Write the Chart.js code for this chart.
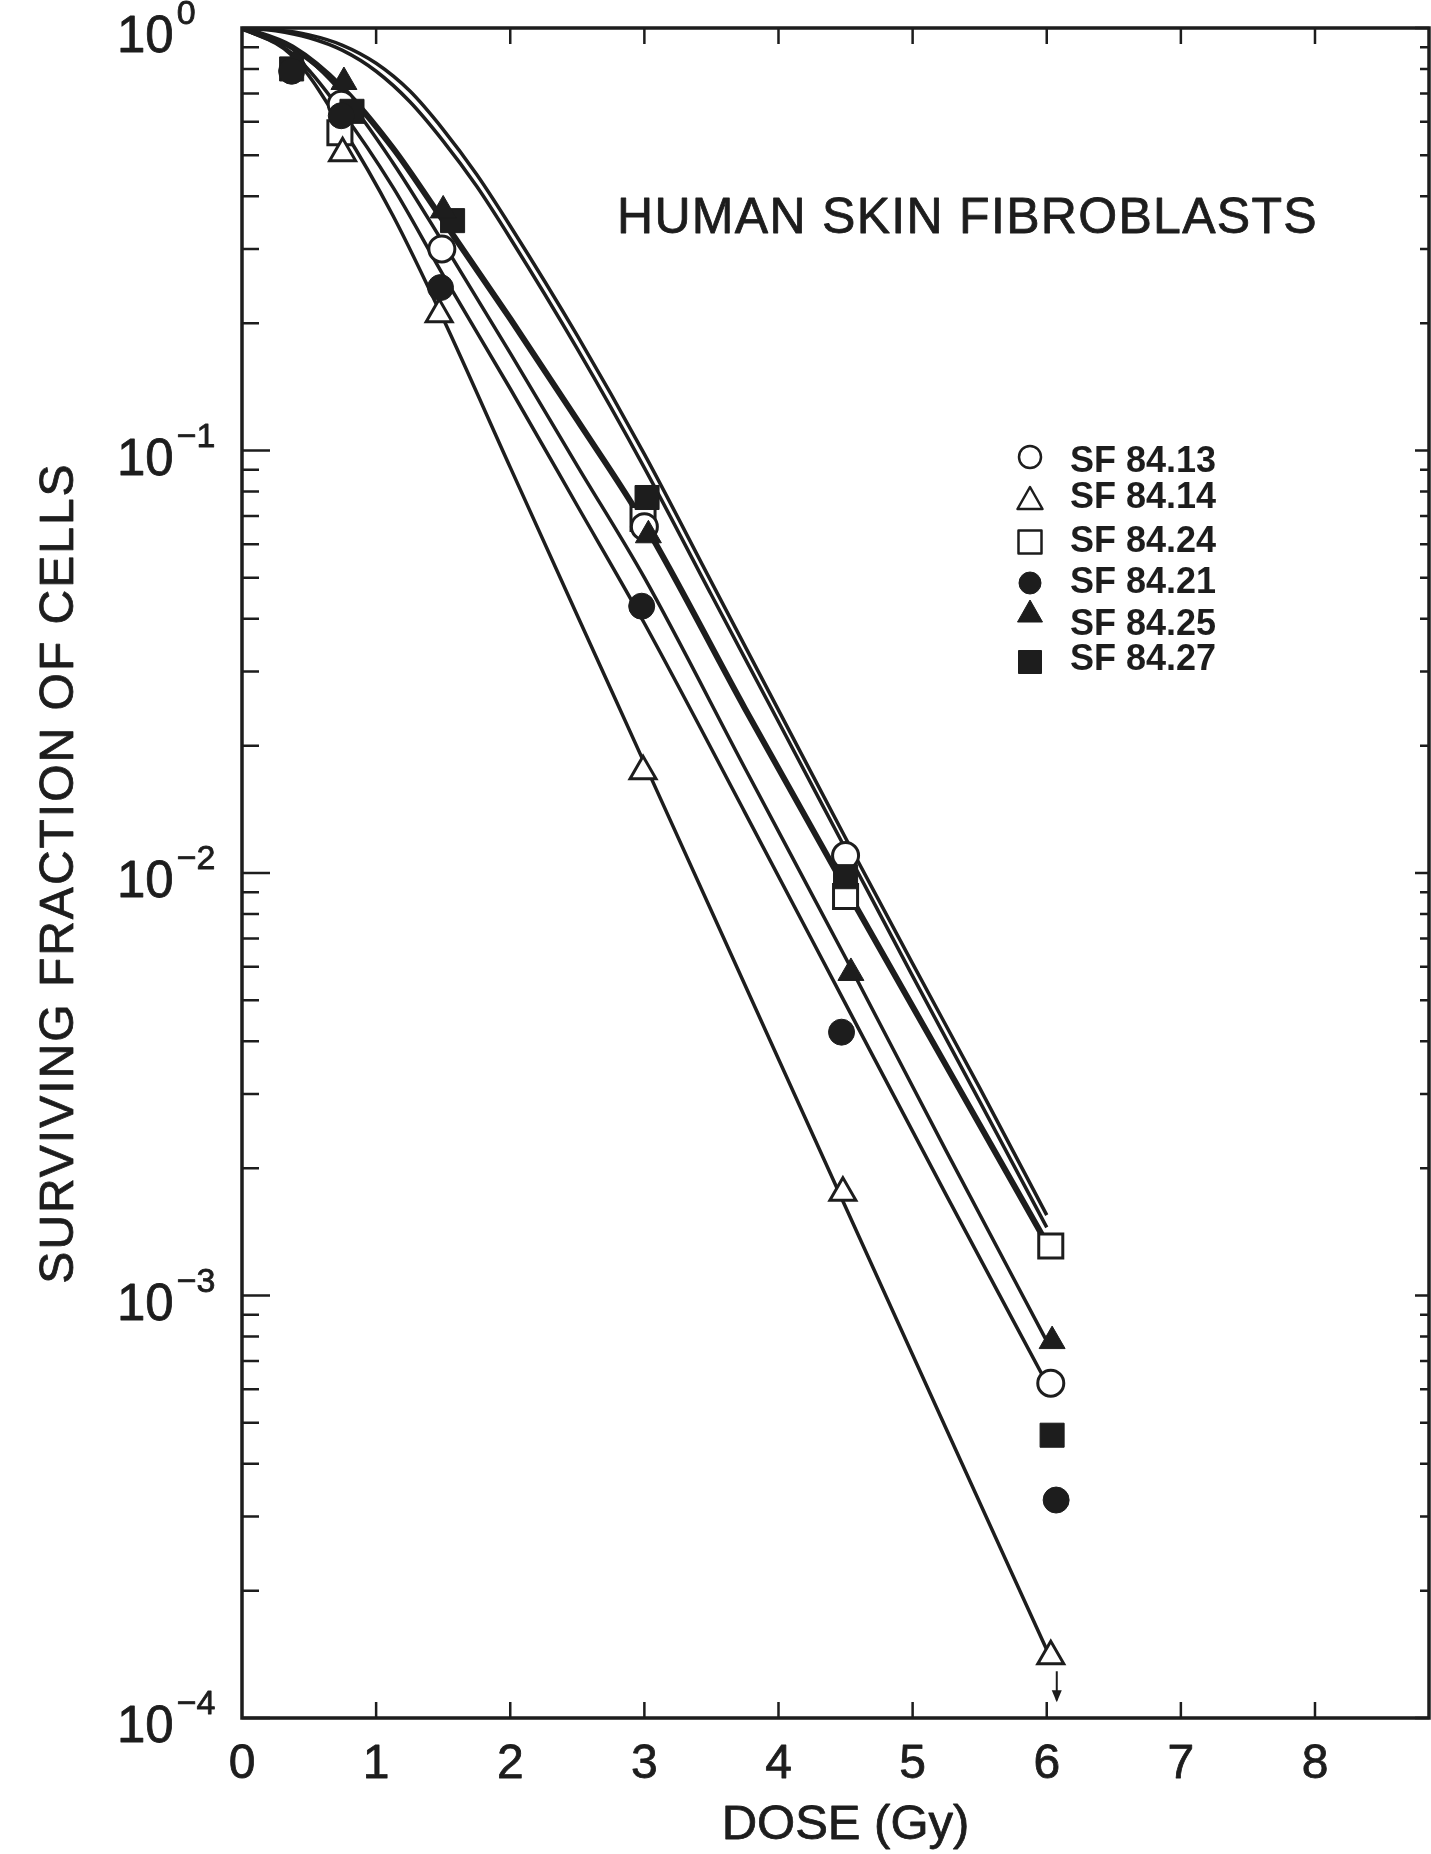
<!DOCTYPE html>
<html>
<head>
<meta charset="utf-8">
<title>Human skin fibroblasts</title>
<script src="https://cdn.jsdelivr.net/npm/chart.js@4.4.1/dist/chart.umd.min.js"></script>
<style>
    html, body { margin: 0; padding: 0; background: #fff; }
    #khungVe { width: 1431px; height: 1854px; }
</style>
</head>
<body>
<div id="khungVe"><canvas id="doThiSongSot" width="1431" height="1854"></canvas></div>
<script>
var _mauMuc = '#1d1d1d';
var _font = '"Liberation Sans", Arial, Helvetica, sans-serif';

// Điểm đo: liều (Gy) và tỉ lệ tế bào sống
var sf8413Dose = [0.74, 1.49, 3.0, 4.5, 6.03];
var sf8413Frac = [0.66, 0.30, 0.066, 0.0110, 0.00062];
var sf8414Dose = [0.75, 1.47, 2.99, 4.48, 6.03];
var sf8414Frac = [0.505, 0.21, 0.0174, 0.00175, 0.000140];
var sf8424Dose = [0.73, 2.99, 4.5, 6.03];
var sf8424Frac = [0.565, 0.069, 0.0088, 0.00131];
var sf8421Dose = [0.37, 0.74, 1.48, 2.98, 4.47, 6.07];
var sf8421Frac = [0.79, 0.62, 0.243, 0.0428, 0.0042, 0.000328];
var sf8425Dose = [0.4, 0.76, 1.5, 3.03, 4.54, 6.04];
var sf8425Frac = [0.83, 0.745, 0.37, 0.063, 0.0058, 0.00078];
var sf8427Dose = [0.37, 0.82, 1.57, 3.02, 4.5, 6.04];
var sf8427Frac = [0.8, 0.635, 0.35, 0.0774, 0.0098, 0.000467];

// Các đường cong khớp (đọc theo hình)
var fitDose = [0, 0.375, 0.75, 1.125, 1.5, 2, 2.5, 3, 3.75, 4.5, 5.25, 6];
var fit8414 = [1, 0.86, 0.58, 0.36, 0.205, 0.0912, 0.0407, 0.0182, 0.00543, 0.00162, 0.000484, 0.000145];
var fit8421 = [1, 0.87, 0.63, 0.42, 0.26, 0.14, 0.074, 0.039, 0.0139, 0.0049, 0.00173, 0.00062];
var fit8425 = [1, 0.9, 0.7, 0.48, 0.31, 0.17, 0.092, 0.05, 0.0177, 0.0063, 0.0022, 0.00078];
var fit8424 = [1, 0.9, 0.72, 0.52, 0.35, 0.205, 0.118, 0.067, 0.0245, 0.0092, 0.0035, 0.00133];
var vaiDose = [0, 0.25, 0.5, 0.75, 1, 1.25, 1.5, 1.75, 2, 2.5, 3, 3.5, 4, 4.5, 5, 5.5, 6];
var fit8413 = [1, 0.99, 0.963, 0.91, 0.825, 0.71, 0.575, 0.45, 0.34, 0.187, 0.098, 0.0488, 0.0243, 0.0121, 0.0061, 0.0031, 0.00155];
var fit8427 = [1, 0.985, 0.948, 0.885, 0.79, 0.67, 0.54, 0.422, 0.318, 0.174, 0.091, 0.0455, 0.0228, 0.0114, 0.0057, 0.00288, 0.00145];

// Nhãn trục
var xTickValues = [0, 1, 2, 3, 4, 5, 6, 7, 8];
var xTickLabels = ['0', '1', '2', '3', '4', '5', '6', '7', '8'];
var yDecades = [1, 0.1, 0.01, 0.001, 0.0001];
var yExponents = ['0', '\u22121', '\u22122', '\u22123', '\u22124'];
var legendLabels = ['SF 84.13', 'SF 84.14', 'SF 84.24', 'SF 84.21', 'SF 84.25', 'SF 84.27'];
var legendStyles = ['circle', 'triangle', 'rect', 'circle', 'triangle', 'rect'];
var legendFilled = [false, false, false, true, true, true];

var _myChart = null;

function taoDiem(doses, fracs) {
    return doses.map(function (d, i) {
        return { x: d, y: fracs[i] };
    });
}

function datasetDiem(label, doses, fracs, style, filled, r) {
    return {
        label: label,
        data: taoDiem(doses, fracs),
        showLine: false,
        pointStyle: style,
        pointRadius: r,
        pointBackgroundColor: filled ? _mauMuc : '#ffffff',
        pointBorderColor: _mauMuc,
        pointBorderWidth: filled ? 1 : 3,
        order: filled ? 0 : 1
    };
}

function datasetDuong(doses, fracs, width) {
    return {
        label: '',
        data: taoDiem(doses, fracs),
        showLine: true,
        borderColor: _mauMuc,
        borderWidth: width,
        pointRadius: 0,
        cubicInterpolationMode: 'monotone',
        fill: false,
        order: 2
    };
}

// chữ đậm hơn một chút giống bản in
function vietChu(ctx, text, x, y) {
    ctx.fillText(text, x, y);
    ctx.strokeText(text, x, y);
}

// vẽ ký hiệu cho chú thích
function veKyHieu(ctx, style, filled, x, y) {
    ctx.beginPath();
    if (style === 'circle') {
        ctx.arc(x, y, 11, 0, Math.PI * 2);
    } else if (style === 'triangle') {
        ctx.moveTo(x, y - 13);
        ctx.lineTo(x + 12.5, y + 9);
        ctx.lineTo(x - 12.5, y + 9);
        ctx.closePath();
    } else {
        ctx.rect(x - 11.5, y - 11.5, 23, 23);
    }
    ctx.fillStyle = filled ? _mauMuc : '#ffffff';
    ctx.fill();
    ctx.lineWidth = filled ? 1 : 2.5;
    ctx.strokeStyle = _mauMuc;
    ctx.stroke();
}

var khungPlugin = {
    id: 'khung',
    afterDatasetsDraw: function (chart) {
        var ctx = chart.ctx;
        var a = chart.chartArea;
        var sx = chart.scales.x;
        var sy = chart.scales.y;
        ctx.save();
        ctx.strokeStyle = _mauMuc;
        ctx.lineWidth = 3.5;
        ctx.strokeRect(a.left, a.top, a.right - a.left, a.bottom - a.top);

        // vạch chia trục y (hướng vào trong)
        ctx.lineWidth = 2.5;
        ctx.beginPath();
        yDecades.forEach(function (v) {
            var py = sy.getPixelForValue(v);
            ctx.moveTo(a.left, py); ctx.lineTo(a.left + 28, py);
            ctx.moveTo(a.right, py); ctx.lineTo(a.right - 14, py);
            if (v < 1) {
                for (var m = 2; m <= 9; m++) {
                    var pm = sy.getPixelForValue(m * v);
                    ctx.moveTo(a.left, pm); ctx.lineTo(a.left + 17, pm);
                    ctx.moveTo(a.right, pm); ctx.lineTo(a.right - 9, pm);
                }
            }
        });
        // vạch chia trục x
        xTickValues.forEach(function (v) {
            if (v === 0) return;
            var px = sx.getPixelForValue(v);
            ctx.moveTo(px, a.bottom); ctx.lineTo(px, a.bottom - 16);
            ctx.moveTo(px, a.top); ctx.lineTo(px, a.top + 16);
        });
        ctx.stroke();

        // mũi tên dưới điểm SF 84.14 ở 6 Gy
        var meta = chart.getDatasetMeta(1);
        var p = meta.data[meta.data.length - 1];
        var ax = p.x + 6;
        ctx.lineWidth = 2;
        ctx.beginPath();
        ctx.moveTo(ax, p.y + 15);
        ctx.lineTo(ax, p.y + 44);
        ctx.stroke();
        ctx.beginPath();
        ctx.moveTo(ax - 5, p.y + 34);
        ctx.lineTo(ax + 5, p.y + 34);
        ctx.lineTo(ax, p.y + 46);
        ctx.closePath();
        ctx.fillStyle = _mauMuc;
        ctx.fill();
        ctx.restore();
    },
    afterDraw: function (chart) {
        var ctx = chart.ctx;
        var a = chart.chartArea;
        var sx = chart.scales.x;
        var sy = chart.scales.y;
        ctx.save();
        ctx.fillStyle = _mauMuc;
        ctx.strokeStyle = _mauMuc;
        ctx.lineWidth = 0.8;
        ctx.lineJoin = 'round';

        // nhãn trục y: 10 mũ
        yDecades.forEach(function (v, i) {
            var py = sy.getPixelForValue(v);
            ctx.font = '51px ' + _font;
            ctx.textAlign = 'left';
            ctx.textBaseline = 'alphabetic';
            vietChu(ctx, '10', 117, py + 24);
            var w = ctx.measureText('10').width;
            ctx.font = '34px ' + _font;
            vietChu(ctx, yExponents[i], 117 + w + 3, py - 4);
        });

        // nhãn trục x
        ctx.font = '48px ' + _font;
        ctx.textAlign = 'center';
        xTickValues.forEach(function (v, i) {
            vietChu(ctx, xTickLabels[i], sx.getPixelForValue(v), a.bottom + 60);
        });

        // tiêu đề trục
        ctx.font = '49px ' + _font;
        vietChu(ctx, 'DOSE (Gy)', (a.left + a.right) / 2 + 10, a.bottom + 121);

        ctx.save();
        ctx.translate(73, (a.top + a.bottom) / 2);
        ctx.rotate(-Math.PI / 2);
        ctx.font = '48px ' + _font;
        ctx.letterSpacing = '2px';
        ctx.textAlign = 'center';
        vietChu(ctx, 'SURVIVING FRACTION OF CELLS', 0, 0);
        ctx.restore();

        // tiêu đề trong khung
        ctx.font = '50px ' + _font;
        ctx.letterSpacing = '1.3px';
        ctx.textAlign = 'left';
        vietChu(ctx, 'HUMAN SKIN FIBROBLASTS', a.left + 375, a.top + 205);
        ctx.letterSpacing = '0px';

        // chú thích
        var hangKyHieu = [457, 500, 542, 583, 613, 662];
        var hangChu = [472, 508, 552, 593, 635, 670];
        ctx.font = 'bold 36px ' + _font;
        legendLabels.forEach(function (t, i) {
            veKyHieu(ctx, legendStyles[i], legendFilled[i], 1030, hangKyHieu[i]);
            ctx.fillStyle = _mauMuc;
            ctx.fillText(t, 1070, hangChu[i]);
        });
        ctx.restore();
    }
};

function renderDoThi() {
    var ctx = document.getElementById('doThiSongSot').getContext('2d');
    var datasets = [
        datasetDiem('SF 84.13', sf8413Dose, sf8413Frac, 'circle', false, 13),
        datasetDiem('SF 84.14', sf8414Dose, sf8414Frac, 'triangle', false, 15),
        datasetDiem('SF 84.24', sf8424Dose, sf8424Frac, 'rect', false, 17),
        datasetDiem('SF 84.21', sf8421Dose, sf8421Frac, 'circle', true, 13),
        datasetDiem('SF 84.25', sf8425Dose, sf8425Frac, 'triangle', true, 15),
        datasetDiem('SF 84.27', sf8427Dose, sf8427Frac, 'rect', true, 17),
        datasetDuong(fitDose, fit8414, 3.5),
        datasetDuong(fitDose, fit8421, 3.5),
        datasetDuong(fitDose, fit8425, 3.5),
        datasetDuong(fitDose, fit8424, 6),
        datasetDuong(vaiDose, fit8413, 3.5),
        datasetDuong(vaiDose, fit8427, 3.5)
    ];
    _myChart = new Chart(ctx, {
        type: 'scatter',
        data: { datasets: datasets },
        options: {
            responsive: false,
            animation: false,
            events: [],
            layout: { autoPadding: false, padding: { left: 242, top: 28, right: 2, bottom: 136 } },
            plugins: {
                legend: { display: false },
                tooltip: { enabled: false }
            },
            scales: {
                x: { type: 'linear', min: 0, max: 8.85, display: false },
                y: { type: 'logarithmic', min: 0.0001, max: 1, display: false }
            }
        },
        plugins: [khungPlugin]
    });
}

renderDoThi();
</script>
</body>
</html>
